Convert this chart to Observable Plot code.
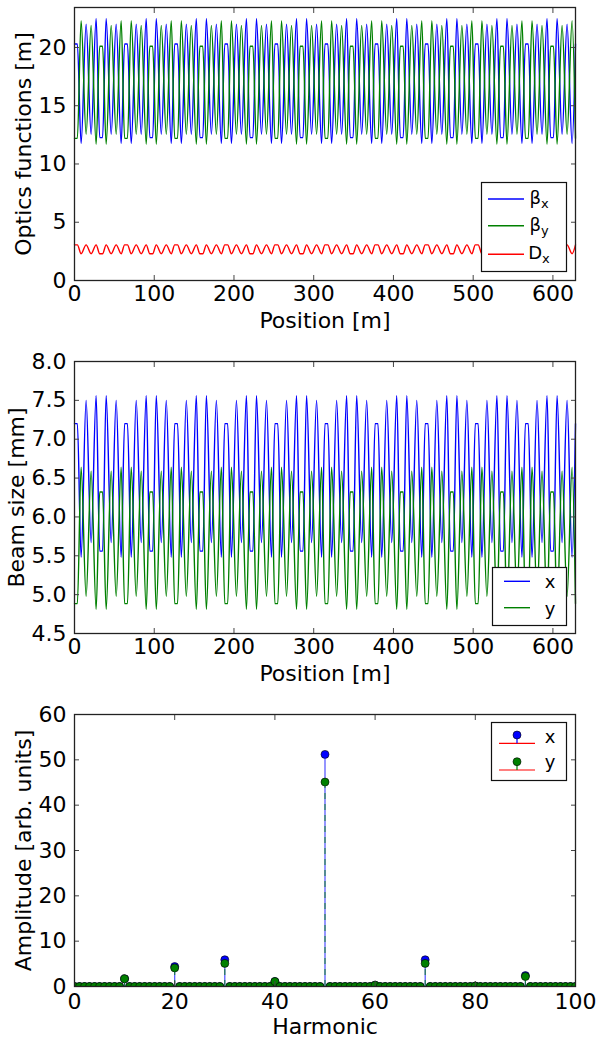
<!DOCTYPE html>
<html><head><meta charset="utf-8">
<script src="https://cdn.jsdelivr.net/npm/d3@7"></script>
<script src="https://cdn.jsdelivr.net/npm/@observablehq/plot@0.6"></script>
<style>
body{margin:0;background:#fff;}
#chart{width:598px;height:1041px;position:relative;background:#fff;}
#chart svg{display:block;}
</style></head><body><div id="chart"></div>
<script>
// ---- Data ----
// Ring: 10 identical superperiods (circumference ~628.3 m)
const superperiodStarts = [0, 62.83, 125.66, 188.50, 251.33, 314.16, 376.99, 439.82, 502.65, 565.49];
const circumference = 628.32;
// positions (m, within a superperiod) of the extrema / flat-segment ends
const pointOffsets = [0, 3.6, 8.28, 14.57, 20.85, 27.13, 31.62, 35.22, 39.70, 45.98, 52.27, 58.55];
// optics functions [m] at those points
const betaX  = [20.3, 20.3, 11.75, 22.0, 12.55, 22.5, 12.26, 12.26, 22.5, 12.55, 22.0, 11.75];
const betaY  = [12.2, 12.2, 22.3, 12.55, 21.9, 11.7, 20.1, 20.1, 11.7, 21.9, 12.55, 22.3];
const dispX  = [3.06, 3.06, 2.30, 3.06, 2.30, 3.06, 2.30, 2.30, 3.06, 2.30, 3.06, 2.30];
// beam sizes [mm] at those points
const sigmaX = [7.20, 7.20, 5.48, 7.50, 5.67, 7.56, 5.56, 5.56, 7.56, 5.67, 7.50, 5.48];
const sigmaY = [4.885, 4.885, 6.64, 4.98, 6.59, 4.81, 6.32, 6.32, 4.81, 6.59, 4.98, 6.64];
// harmonic spectrum
const harmonicMax = 100;
const peakHarmonics = [10, 20, 30, 40, 50, 60, 70, 80, 90];
const ampX = [1.7, 4.4, 5.9, 1.1, 51.2, 0.3, 5.9, 0.1, 2.4];
const ampY = [1.7, 4.1, 5.1, 1.1, 45.1, 0.3, 5.1, 0.1, 2.2];
// ticks
const posTicks = [0, 100, 200, 300, 400, 500, 600];
const opticsTicks = [0, 5, 10, 15, 20];
const sizeTicks = [4.5, 5.0, 5.5, 6.0, 6.5, 7.0, 7.5, 8.0];
const harmTicks = [0, 20, 40, 60, 80, 100];
const ampTicks = [0, 10, 20, 30, 40, 50, 60];

const BLUE = "#0000ff", GREEN = "#008000", RED = "#ff0000";
const FONT = "DejaVu Sans";
const FS = 22;

// ---- tables ----
const lattice = [];
superperiodStarts.forEach(s => pointOffsets.forEach((o, i) => lattice.push({pos: s + o, i})));
lattice.push({pos: circumference, i: 0});

const spectrum = d3.range(0, harmonicMax + 1).map(h => {
  const k = peakHarmonics.indexOf(h);
  return {h, ax: k >= 0 ? ampX[k] : 0, ay: k >= 0 ? ampY[k] : 0};
});

function axesFor(xTicks, yTicks, yFmt, xLabel, yLabel, yLabelDx, xPad) {
  const tickStroke = "#444";
  return [
    Plot.axisX(xTicks, {anchor: "bottom", tickSize: 0, tickPadding: xPad, label: null, fill: "#000", fontSize: FS}),
    Plot.axisY(yTicks, {anchor: "left", tickSize: 0, tickPadding: 8, label: null, tickFormat: yFmt, fill: "#000", fontSize: FS}),
    Plot.axisX(xTicks, {anchor: "bottom", tickSize: 5, dy: -5, fill: "none", stroke: tickStroke, label: null}),
    Plot.axisX(xTicks, {anchor: "top", tickSize: 5, dy: 5, fill: "none", stroke: tickStroke, label: null}),
    Plot.axisY(yTicks, {anchor: "left", tickSize: 5, dx: 5, fill: "none", stroke: tickStroke, label: null}),
    Plot.axisY(yTicks, {anchor: "right", tickSize: 5, dx: -5, fill: "none", stroke: tickStroke, label: null}),
    Plot.text([xLabel], {frameAnchor: "bottom", textAnchor: "middle", dy: 47, text: d => d, fontSize: FS, fill: "#000"}),
    Plot.text([yLabel], {frameAnchor: "left", textAnchor: "middle", dx: yLabelDx, rotate: -90, text: d => d, fontSize: FS, fill: "#000"}),
    Plot.frame({stroke: "#222", strokeWidth: 1.3})
  ];
}
const baseStyle = {background: "#fff", fontFamily: FONT, fontSize: FS + "px", color: "#000", overflow: "visible"};
const LW = 1.4;

// ---- Panel 1: optics functions ----
const p1 = Plot.plot({
  width: 598, height: 340, marginTop: 7, marginBottom: 60, marginLeft: 74, marginRight: 23,
  style: baseStyle,
  x: {domain: [0, circumference]},
  y: {domain: [0, 23.43]},
  marks: [
    Plot.line(lattice, {x: "pos", y: d => betaX[d.i], stroke: BLUE, strokeWidth: LW, curve: "monotone-x"}),
    Plot.line(lattice, {x: "pos", y: d => betaY[d.i], stroke: GREEN, strokeWidth: LW, curve: "monotone-x"}),
    Plot.line(lattice, {x: "pos", y: d => dispX[d.i], stroke: RED, strokeWidth: LW, curve: "monotone-x"}),
    ...axesFor(posTicks, opticsTicks, d => String(d), "Position [m]", "Optics functions [m]", -51, 5)
  ]
});

// ---- Panel 2: beam size ----
const p2 = Plot.plot({
  width: 598, height: 350, marginTop: 21, marginBottom: 57, marginLeft: 74, marginRight: 23,
  style: baseStyle,
  x: {domain: [0, circumference]},
  y: {domain: [4.5, 8.0]},
  marks: [
    Plot.line(lattice, {x: "pos", y: d => sigmaX[d.i], stroke: BLUE, strokeWidth: LW, curve: "monotone-x"}),
    Plot.line(lattice, {x: "pos", y: d => sigmaY[d.i], stroke: GREEN, strokeWidth: LW, curve: "monotone-x"}),
    ...axesFor(posTicks, sizeTicks, d3.format(".1f"), "Position [m]", "Beam size [mm]", -58, 5)
  ]
});

// ---- Panel 3: harmonic spectrum (stem plot) ----
const p3 = Plot.plot({
  width: 598, height: 351, marginTop: 24, marginBottom: 55, marginLeft: 74, marginRight: 23,
  style: baseStyle,
  x: {domain: [0, harmonicMax]},
  y: {domain: [0, 60]},
  marks: [
    Plot.dot(spectrum, {x: "h", y: "ax", r: 4, fill: BLUE, stroke: "#000", strokeWidth: 0.6, clip: true}),
    Plot.ruleX(spectrum.filter(d => d.ax > 0), {x: "h", y1: 0, y2: "ax", stroke: BLUE, strokeOpacity: 0.7, strokeWidth: 1.2}),
    Plot.ruleY([0], {stroke: RED}),
    Plot.dot(spectrum, {x: "h", y: "ay", r: 4, fill: GREEN, stroke: "#000", strokeWidth: 0.6, clip: true}),
    Plot.ruleX(spectrum.filter(d => d.ay > 0), {x: "h", y1: 0, y2: "ay", stroke: GREEN, strokeOpacity: 0.7, strokeWidth: 1.2, strokeDasharray: "6,5"}),
    ...axesFor(harmTicks, ampTicks, d => String(d), "Harmonic", "Amplitude [arb. units]", -51, 7)
  ]
});

const root = document.getElementById("chart");
[p1, p2, p3].forEach(p => root.appendChild(p));

// ---- legends ----
function legendBox(svg, x, y, w, h) {
  return d3.select(svg).append("g")
    .attr("font-family", FONT).attr("fill", "#000")
    .call(g => g.append("rect").attr("x", x).attr("y", y).attr("width", w).attr("height", h)
      .attr("fill", "#fff").attr("stroke", "#111").attr("stroke-width", 1.2));
}
// panel 1
{
  const g = legendBox(p1, 481.5, 182.5, 85, 89);
  const items = [["β", "x", BLUE, 199], ["β", "y", GREEN, 225.7], ["D", "x", RED, 254.3]];
  items.forEach(([main, sub, c, y]) => {
    g.append("line").attr("x1", 488).attr("x2", 524).attr("y1", y).attr("y2", y).attr("stroke", c).attr("stroke-width", LW);
    const t = g.append("text").attr("x", 539).attr("y", y + 5).attr("font-size", 18);
    t.append("tspan").text(main);
    t.append("tspan").attr("font-size", 13).attr("dy", 4).text(sub);
  });
}
// panel 2
{
  const g = legendBox(p2, 492.5, 227.5, 74, 58);
  [["x", BLUE, 241.3, 248.3], ["y", GREEN, 267.7, 275]].forEach(([lab, c, y, by]) => {
    g.append("line").attr("x1", 504).attr("x2", 530).attr("y1", y).attr("y2", y).attr("stroke", c).attr("stroke-width", LW);
    g.append("text").attr("x", 550).attr("y", by).attr("font-size", 18).text(lab);
  });
}
// panel 3
{
  const g = legendBox(p3, 491.5, 32.5, 75, 58);
  [["x", BLUE, 45, 53.3, 53], ["y", GREEN, 71.7, 80, 78]].forEach(([lab, c, my, by, ty]) => {
    g.append("line").attr("x1", 499).attr("x2", 535).attr("y1", by).attr("y2", by).attr("stroke", RED).attr("stroke-width", 1.2);
    g.append("line").attr("x1", 517).attr("x2", 517).attr("y1", my).attr("y2", by).attr("stroke", c).attr("stroke-width", 1.2);
    g.append("circle").attr("cx", 517).attr("cy", my).attr("r", 4).attr("fill", c).attr("stroke", "#000").attr("stroke-width", 0.6);
    g.append("text").attr("x", 550).attr("y", ty).attr("font-size", 18).text(lab);
  });
}
</script></body></html>
